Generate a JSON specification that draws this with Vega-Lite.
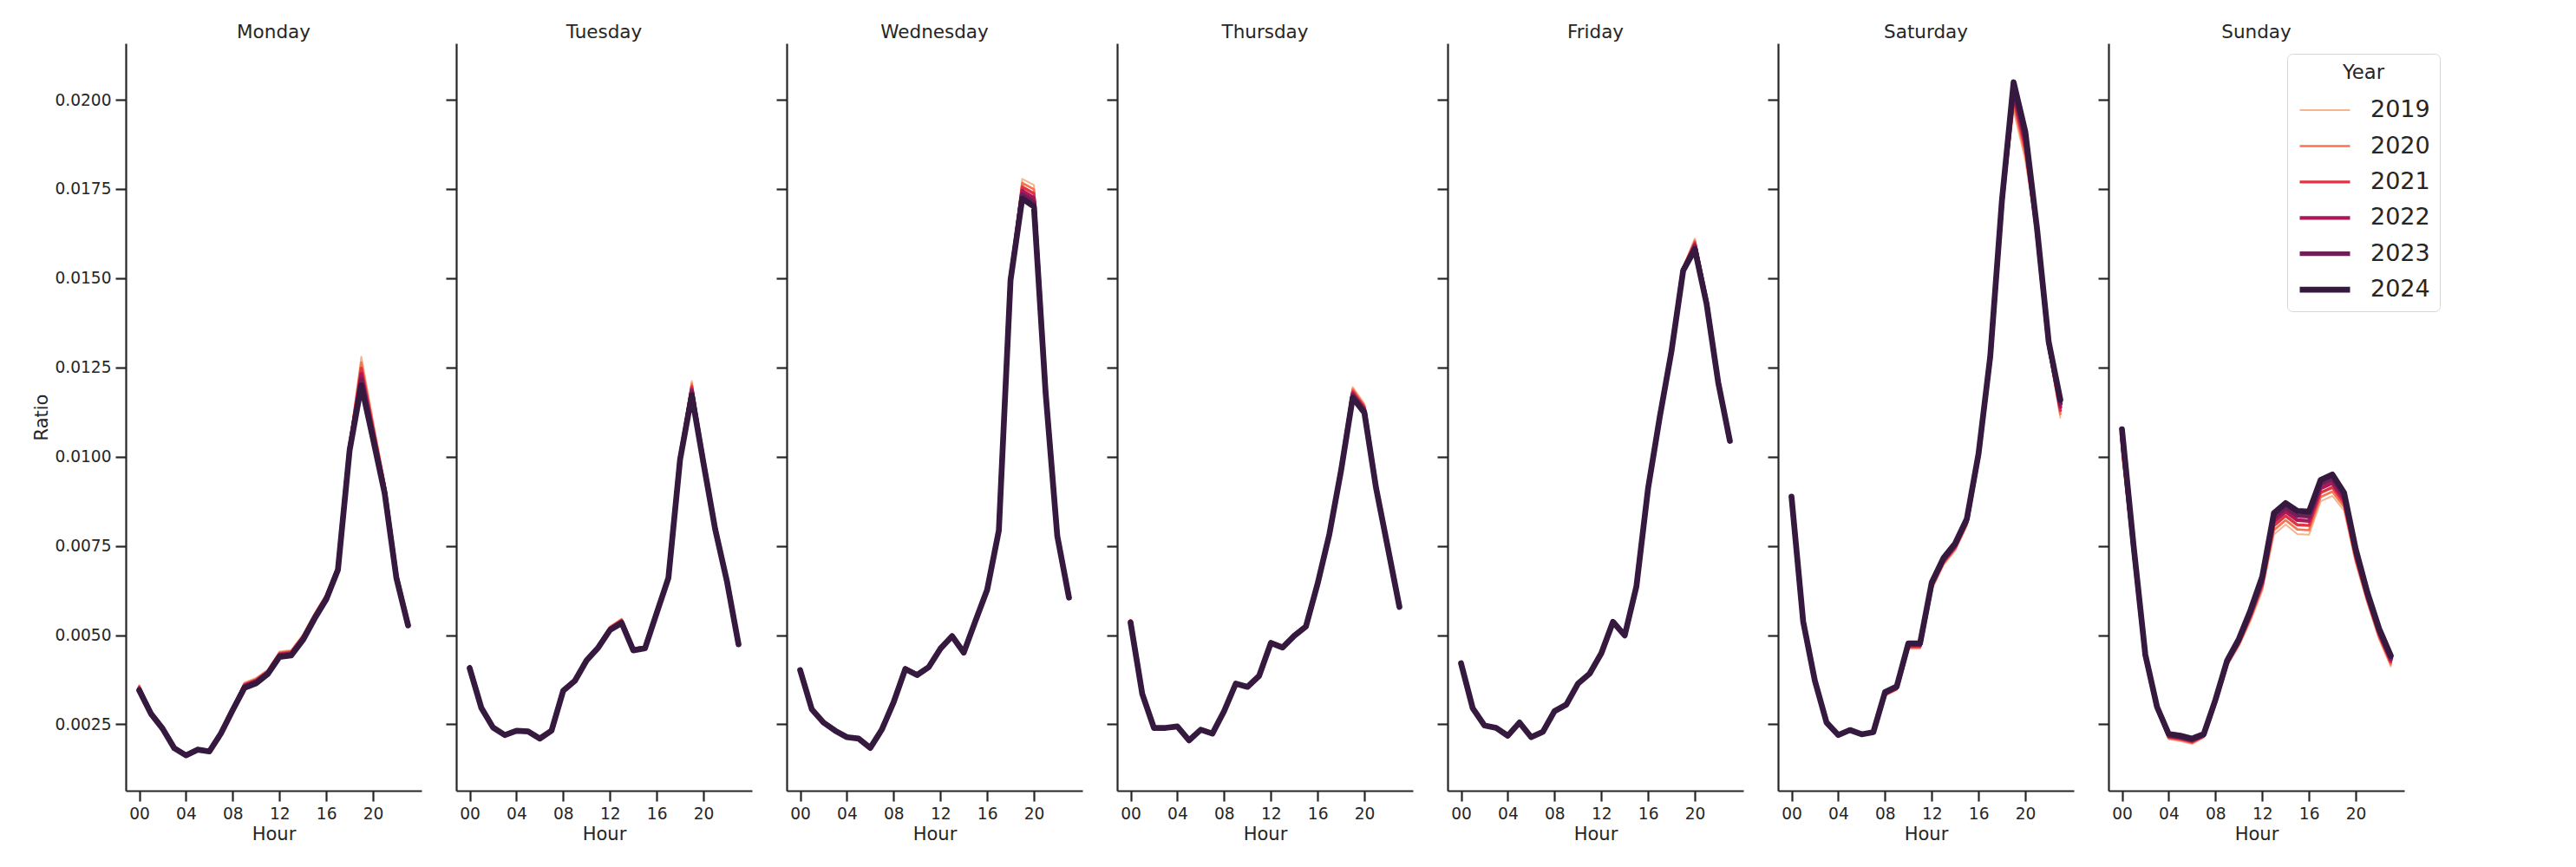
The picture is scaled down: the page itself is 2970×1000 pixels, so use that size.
{
"$schema":"https://vega.github.io/schema/vega-lite/v6.json",
"background":"white",
"padding":{"left":37,"top":26,"right":5,"bottom":5},
"spacing":40,
"bounds":"flush",
"config":{
 "view":{"stroke":null},
 "font":"DejaVu Sans",
 "axis":{"domainColor":"#262626","domainWidth":2.2,"tickColor":"#262626","tickWidth":2.2,"tickSize":12,"labelColor":"#262626","labelFontSize":18.6,"labelFont":"DejaVu Sans","titleFont":"DejaVu Sans","titleFontSize":21,"titleFontWeight":"normal","titleColor":"#262626","grid":false,"labelPadding":5},
 "title":{"fontSize":21.5,"fontWeight":"normal","color":"#262626","font":"DejaVu Sans","offset":2},
 "legend":{"orient":"none","legendX":2492,"legendY":12,"symbolType":"stroke","symbolSize":3364,"clipHeight":27,"labelFontSize":27,"labelFont":"DejaVu Sans","titleFont":"DejaVu Sans","titleFontSize":22.7,"titleFontWeight":"normal","titleAnchor":"middle","titleColor":"#262626","labelColor":"#262626","strokeColor":"#d6d6d6","fillColor":"white","padding":11,"cornerRadius":6,"rowPadding":13.4,"labelOffset":20,"titlePadding":17.9}
},
"resolve":{"scale":{"color":"shared","strokeWidth":"shared"},"legend":{"color":"shared","strokeWidth":"shared"}},
"datasets":{
"Monday":[
{"hour":0,"year":2019,"ratio":0.00360},{"hour":1,"year":2019,"ratio":0.00285},{"hour":2,"year":2019,"ratio":0.00243},{"hour":3,"year":2019,"ratio":0.00186},{"hour":4,"year":2019,"ratio":0.00166},{"hour":5,"year":2019,"ratio":0.00182},{"hour":6,"year":2019,"ratio":0.00177},{"hour":7,"year":2019,"ratio":0.00230},{"hour":8,"year":2019,"ratio":0.00298},{"hour":9,"year":2019,"ratio":0.00367},{"hour":10,"year":2019,"ratio":0.00380},{"hour":11,"year":2019,"ratio":0.00403},{"hour":12,"year":2019,"ratio":0.00454},{"hour":13,"year":2019,"ratio":0.00458},{"hour":14,"year":2019,"ratio":0.00501},{"hour":15,"year":2019,"ratio":0.00561},{"hour":16,"year":2019,"ratio":0.00615},{"hour":17,"year":2019,"ratio":0.00695},{"hour":18,"year":2019,"ratio":0.01038},{"hour":19,"year":2019,"ratio":0.01280},{"hour":20,"year":2019,"ratio":0.01100},{"hour":21,"year":2019,"ratio":0.00927},{"hour":22,"year":2019,"ratio":0.00680},{"hour":23,"year":2019,"ratio":0.00537},
{"hour":0,"year":2020,"ratio":0.00357},{"hour":1,"year":2020,"ratio":0.00284},{"hour":2,"year":2020,"ratio":0.00242},{"hour":3,"year":2020,"ratio":0.00185},{"hour":4,"year":2020,"ratio":0.00165},{"hour":5,"year":2020,"ratio":0.00181},{"hour":6,"year":2020,"ratio":0.00176},{"hour":7,"year":2020,"ratio":0.00229},{"hour":8,"year":2020,"ratio":0.00296},{"hour":9,"year":2020,"ratio":0.00364},{"hour":10,"year":2020,"ratio":0.00377},{"hour":11,"year":2020,"ratio":0.00401},{"hour":12,"year":2020,"ratio":0.00451},{"hour":13,"year":2020,"ratio":0.00455},{"hour":14,"year":2020,"ratio":0.00498},{"hour":15,"year":2020,"ratio":0.00558},{"hour":16,"year":2020,"ratio":0.00612},{"hour":17,"year":2020,"ratio":0.00693},{"hour":18,"year":2020,"ratio":0.01034},{"hour":19,"year":2020,"ratio":0.01264},{"hour":20,"year":2020,"ratio":0.01090},{"hour":21,"year":2020,"ratio":0.00921},{"hour":22,"year":2020,"ratio":0.00676},{"hour":23,"year":2020,"ratio":0.00535},
{"hour":0,"year":2021,"ratio":0.00354},{"hour":1,"year":2021,"ratio":0.00283},{"hour":2,"year":2021,"ratio":0.00241},{"hour":3,"year":2021,"ratio":0.00185},{"hour":4,"year":2021,"ratio":0.00165},{"hour":5,"year":2021,"ratio":0.00181},{"hour":6,"year":2021,"ratio":0.00176},{"hour":7,"year":2021,"ratio":0.00228},{"hour":8,"year":2021,"ratio":0.00295},{"hour":9,"year":2021,"ratio":0.00361},{"hour":10,"year":2021,"ratio":0.00374},{"hour":11,"year":2021,"ratio":0.00398},{"hour":12,"year":2021,"ratio":0.00448},{"hour":13,"year":2021,"ratio":0.00452},{"hour":14,"year":2021,"ratio":0.00495},{"hour":15,"year":2021,"ratio":0.00555},{"hour":16,"year":2021,"ratio":0.00609},{"hour":17,"year":2021,"ratio":0.00690},{"hour":18,"year":2021,"ratio":0.01030},{"hour":19,"year":2021,"ratio":0.01248},{"hour":20,"year":2021,"ratio":0.01080},{"hour":21,"year":2021,"ratio":0.00915},{"hour":22,"year":2021,"ratio":0.00672},{"hour":23,"year":2021,"ratio":0.00533},
{"hour":0,"year":2022,"ratio":0.00351},{"hour":1,"year":2022,"ratio":0.00282},{"hour":2,"year":2022,"ratio":0.00240},{"hour":3,"year":2022,"ratio":0.00184},{"hour":4,"year":2022,"ratio":0.00164},{"hour":5,"year":2022,"ratio":0.00180},{"hour":6,"year":2022,"ratio":0.00175},{"hour":7,"year":2022,"ratio":0.00227},{"hour":8,"year":2022,"ratio":0.00293},{"hour":9,"year":2022,"ratio":0.00358},{"hour":10,"year":2022,"ratio":0.00371},{"hour":11,"year":2022,"ratio":0.00396},{"hour":12,"year":2022,"ratio":0.00445},{"hour":13,"year":2022,"ratio":0.00449},{"hour":14,"year":2022,"ratio":0.00492},{"hour":15,"year":2022,"ratio":0.00552},{"hour":16,"year":2022,"ratio":0.00606},{"hour":17,"year":2022,"ratio":0.00688},{"hour":18,"year":2022,"ratio":0.01026},{"hour":19,"year":2022,"ratio":0.01232},{"hour":20,"year":2022,"ratio":0.01070},{"hour":21,"year":2022,"ratio":0.00909},{"hour":22,"year":2022,"ratio":0.00668},{"hour":23,"year":2022,"ratio":0.00531},
{"hour":0,"year":2023,"ratio":0.00348},{"hour":1,"year":2023,"ratio":0.00281},{"hour":2,"year":2023,"ratio":0.00239},{"hour":3,"year":2023,"ratio":0.00184},{"hour":4,"year":2023,"ratio":0.00164},{"hour":5,"year":2023,"ratio":0.00180},{"hour":6,"year":2023,"ratio":0.00175},{"hour":7,"year":2023,"ratio":0.00226},{"hour":8,"year":2023,"ratio":0.00292},{"hour":9,"year":2023,"ratio":0.00355},{"hour":10,"year":2023,"ratio":0.00368},{"hour":11,"year":2023,"ratio":0.00393},{"hour":12,"year":2023,"ratio":0.00442},{"hour":13,"year":2023,"ratio":0.00446},{"hour":14,"year":2023,"ratio":0.00489},{"hour":15,"year":2023,"ratio":0.00549},{"hour":16,"year":2023,"ratio":0.00603},{"hour":17,"year":2023,"ratio":0.00685},{"hour":18,"year":2023,"ratio":0.01022},{"hour":19,"year":2023,"ratio":0.01216},{"hour":20,"year":2023,"ratio":0.01060},{"hour":21,"year":2023,"ratio":0.00903},{"hour":22,"year":2023,"ratio":0.00664},{"hour":23,"year":2023,"ratio":0.00529},
{"hour":0,"year":2024,"ratio":0.00345},{"hour":1,"year":2024,"ratio":0.00280},{"hour":2,"year":2024,"ratio":0.00238},{"hour":3,"year":2024,"ratio":0.00183},{"hour":4,"year":2024,"ratio":0.00163},{"hour":5,"year":2024,"ratio":0.00179},{"hour":6,"year":2024,"ratio":0.00174},{"hour":7,"year":2024,"ratio":0.00225},{"hour":8,"year":2024,"ratio":0.00290},{"hour":9,"year":2024,"ratio":0.00352},{"hour":10,"year":2024,"ratio":0.00365},{"hour":11,"year":2024,"ratio":0.00391},{"hour":12,"year":2024,"ratio":0.00439},{"hour":13,"year":2024,"ratio":0.00443},{"hour":14,"year":2024,"ratio":0.00486},{"hour":15,"year":2024,"ratio":0.00546},{"hour":16,"year":2024,"ratio":0.00600},{"hour":17,"year":2024,"ratio":0.00683},{"hour":18,"year":2024,"ratio":0.01018},{"hour":19,"year":2024,"ratio":0.01200},{"hour":20,"year":2024,"ratio":0.01050},{"hour":21,"year":2024,"ratio":0.00897},{"hour":22,"year":2024,"ratio":0.00660},{"hour":23,"year":2024,"ratio":0.00527}
],
"Tuesday":[
{"hour":0,"year":2019,"ratio":0.00415},{"hour":1,"year":2019,"ratio":0.00296},{"hour":2,"year":2019,"ratio":0.00241},{"hour":3,"year":2019,"ratio":0.00220},{"hour":4,"year":2019,"ratio":0.00232},{"hour":5,"year":2019,"ratio":0.00230},{"hour":6,"year":2019,"ratio":0.00210},{"hour":7,"year":2019,"ratio":0.00232},{"hour":8,"year":2019,"ratio":0.00347},{"hour":9,"year":2019,"ratio":0.00375},{"hour":10,"year":2019,"ratio":0.00434},{"hour":11,"year":2019,"ratio":0.00470},{"hour":12,"year":2019,"ratio":0.00524},{"hour":13,"year":2019,"ratio":0.00546},{"hour":14,"year":2019,"ratio":0.00465},{"hour":15,"year":2019,"ratio":0.00468},{"hour":16,"year":2019,"ratio":0.00565},{"hour":17,"year":2019,"ratio":0.00663},{"hour":18,"year":2019,"ratio":0.01002},{"hour":19,"year":2019,"ratio":0.01212},{"hour":20,"year":2019,"ratio":0.00992},{"hour":21,"year":2019,"ratio":0.00800},{"hour":22,"year":2019,"ratio":0.00652},{"hour":23,"year":2019,"ratio":0.00474},
{"hour":0,"year":2020,"ratio":0.00413},{"hour":1,"year":2020,"ratio":0.00296},{"hour":2,"year":2020,"ratio":0.00241},{"hour":3,"year":2020,"ratio":0.00220},{"hour":4,"year":2020,"ratio":0.00232},{"hour":5,"year":2020,"ratio":0.00230},{"hour":6,"year":2020,"ratio":0.00210},{"hour":7,"year":2020,"ratio":0.00232},{"hour":8,"year":2020,"ratio":0.00346},{"hour":9,"year":2020,"ratio":0.00374},{"hour":10,"year":2020,"ratio":0.00433},{"hour":11,"year":2020,"ratio":0.00469},{"hour":12,"year":2020,"ratio":0.00522},{"hour":13,"year":2020,"ratio":0.00544},{"hour":14,"year":2020,"ratio":0.00463},{"hour":15,"year":2020,"ratio":0.00467},{"hour":16,"year":2020,"ratio":0.00564},{"hour":17,"year":2020,"ratio":0.00662},{"hour":18,"year":2020,"ratio":0.01000},{"hour":19,"year":2020,"ratio":0.01204},{"hour":20,"year":2020,"ratio":0.00990},{"hour":21,"year":2020,"ratio":0.00799},{"hour":22,"year":2020,"ratio":0.00652},{"hour":23,"year":2020,"ratio":0.00474},
{"hour":0,"year":2021,"ratio":0.00412},{"hour":1,"year":2021,"ratio":0.00296},{"hour":2,"year":2021,"ratio":0.00241},{"hour":3,"year":2021,"ratio":0.00220},{"hour":4,"year":2021,"ratio":0.00232},{"hour":5,"year":2021,"ratio":0.00230},{"hour":6,"year":2021,"ratio":0.00210},{"hour":7,"year":2021,"ratio":0.00232},{"hour":8,"year":2021,"ratio":0.00346},{"hour":9,"year":2021,"ratio":0.00374},{"hour":10,"year":2021,"ratio":0.00432},{"hour":11,"year":2021,"ratio":0.00468},{"hour":12,"year":2021,"ratio":0.00520},{"hour":13,"year":2021,"ratio":0.00541},{"hour":14,"year":2021,"ratio":0.00462},{"hour":15,"year":2021,"ratio":0.00466},{"hour":16,"year":2021,"ratio":0.00564},{"hour":17,"year":2021,"ratio":0.00662},{"hour":18,"year":2021,"ratio":0.00998},{"hour":19,"year":2021,"ratio":0.01196},{"hour":20,"year":2021,"ratio":0.00988},{"hour":21,"year":2021,"ratio":0.00799},{"hour":22,"year":2021,"ratio":0.00652},{"hour":23,"year":2021,"ratio":0.00474},
{"hour":0,"year":2022,"ratio":0.00410},{"hour":1,"year":2022,"ratio":0.00296},{"hour":2,"year":2022,"ratio":0.00241},{"hour":3,"year":2022,"ratio":0.00220},{"hour":4,"year":2022,"ratio":0.00232},{"hour":5,"year":2022,"ratio":0.00230},{"hour":6,"year":2022,"ratio":0.00210},{"hour":7,"year":2022,"ratio":0.00232},{"hour":8,"year":2022,"ratio":0.00345},{"hour":9,"year":2022,"ratio":0.00373},{"hour":10,"year":2022,"ratio":0.00431},{"hour":11,"year":2022,"ratio":0.00467},{"hour":12,"year":2022,"ratio":0.00518},{"hour":13,"year":2022,"ratio":0.00539},{"hour":14,"year":2022,"ratio":0.00460},{"hour":15,"year":2022,"ratio":0.00465},{"hour":16,"year":2022,"ratio":0.00563},{"hour":17,"year":2022,"ratio":0.00661},{"hour":18,"year":2022,"ratio":0.00996},{"hour":19,"year":2022,"ratio":0.01188},{"hour":20,"year":2022,"ratio":0.00986},{"hour":21,"year":2022,"ratio":0.00798},{"hour":22,"year":2022,"ratio":0.00652},{"hour":23,"year":2022,"ratio":0.00474},
{"hour":0,"year":2023,"ratio":0.00409},{"hour":1,"year":2023,"ratio":0.00296},{"hour":2,"year":2023,"ratio":0.00241},{"hour":3,"year":2023,"ratio":0.00220},{"hour":4,"year":2023,"ratio":0.00232},{"hour":5,"year":2023,"ratio":0.00230},{"hour":6,"year":2023,"ratio":0.00210},{"hour":7,"year":2023,"ratio":0.00232},{"hour":8,"year":2023,"ratio":0.00345},{"hour":9,"year":2023,"ratio":0.00373},{"hour":10,"year":2023,"ratio":0.00430},{"hour":11,"year":2023,"ratio":0.00466},{"hour":12,"year":2023,"ratio":0.00516},{"hour":13,"year":2023,"ratio":0.00536},{"hour":14,"year":2023,"ratio":0.00459},{"hour":15,"year":2023,"ratio":0.00464},{"hour":16,"year":2023,"ratio":0.00563},{"hour":17,"year":2023,"ratio":0.00661},{"hour":18,"year":2023,"ratio":0.00994},{"hour":19,"year":2023,"ratio":0.01180},{"hour":20,"year":2023,"ratio":0.00984},{"hour":21,"year":2023,"ratio":0.00798},{"hour":22,"year":2023,"ratio":0.00652},{"hour":23,"year":2023,"ratio":0.00474},
{"hour":0,"year":2024,"ratio":0.00407},{"hour":1,"year":2024,"ratio":0.00296},{"hour":2,"year":2024,"ratio":0.00241},{"hour":3,"year":2024,"ratio":0.00220},{"hour":4,"year":2024,"ratio":0.00232},{"hour":5,"year":2024,"ratio":0.00230},{"hour":6,"year":2024,"ratio":0.00210},{"hour":7,"year":2024,"ratio":0.00232},{"hour":8,"year":2024,"ratio":0.00344},{"hour":9,"year":2024,"ratio":0.00372},{"hour":10,"year":2024,"ratio":0.00429},{"hour":11,"year":2024,"ratio":0.00465},{"hour":12,"year":2024,"ratio":0.00514},{"hour":13,"year":2024,"ratio":0.00534},{"hour":14,"year":2024,"ratio":0.00457},{"hour":15,"year":2024,"ratio":0.00463},{"hour":16,"year":2024,"ratio":0.00562},{"hour":17,"year":2024,"ratio":0.00660},{"hour":18,"year":2024,"ratio":0.00992},{"hour":19,"year":2024,"ratio":0.01172},{"hour":20,"year":2024,"ratio":0.00982},{"hour":21,"year":2024,"ratio":0.00797},{"hour":22,"year":2024,"ratio":0.00652},{"hour":23,"year":2024,"ratio":0.00474}
],
"Wednesday":[
{"hour":0,"year":2019,"ratio":0.00405},{"hour":1,"year":2019,"ratio":0.00292},{"hour":2,"year":2019,"ratio":0.00255},{"hour":3,"year":2019,"ratio":0.00232},{"hour":4,"year":2019,"ratio":0.00216},{"hour":5,"year":2019,"ratio":0.00211},{"hour":6,"year":2019,"ratio":0.00185},{"hour":7,"year":2019,"ratio":0.00236},{"hour":8,"year":2019,"ratio":0.00315},{"hour":9,"year":2019,"ratio":0.00410},{"hour":10,"year":2019,"ratio":0.00393},{"hour":11,"year":2019,"ratio":0.00415},{"hour":12,"year":2019,"ratio":0.00467},{"hour":13,"year":2019,"ratio":0.00502},{"hour":14,"year":2019,"ratio":0.00454},{"hour":15,"year":2019,"ratio":0.00543},{"hour":16,"year":2019,"ratio":0.00630},{"hour":17,"year":2019,"ratio":0.00798},{"hour":18,"year":2019,"ratio":0.01505},{"hour":19,"year":2019,"ratio":0.01778},{"hour":20,"year":2019,"ratio":0.01761},{"hour":21,"year":2019,"ratio":0.01199},{"hour":22,"year":2019,"ratio":0.00782},{"hour":23,"year":2019,"ratio":0.00608},
{"hour":0,"year":2020,"ratio":0.00404},{"hour":1,"year":2020,"ratio":0.00292},{"hour":2,"year":2020,"ratio":0.00255},{"hour":3,"year":2020,"ratio":0.00232},{"hour":4,"year":2020,"ratio":0.00216},{"hour":5,"year":2020,"ratio":0.00211},{"hour":6,"year":2020,"ratio":0.00185},{"hour":7,"year":2020,"ratio":0.00236},{"hour":8,"year":2020,"ratio":0.00314},{"hour":9,"year":2020,"ratio":0.00409},{"hour":10,"year":2020,"ratio":0.00392},{"hour":11,"year":2020,"ratio":0.00414},{"hour":12,"year":2020,"ratio":0.00466},{"hour":13,"year":2020,"ratio":0.00501},{"hour":14,"year":2020,"ratio":0.00453},{"hour":15,"year":2020,"ratio":0.00542},{"hour":16,"year":2020,"ratio":0.00629},{"hour":17,"year":2020,"ratio":0.00797},{"hour":18,"year":2020,"ratio":0.01503},{"hour":19,"year":2020,"ratio":0.01767},{"hour":20,"year":2020,"ratio":0.01749},{"hour":21,"year":2020,"ratio":0.01195},{"hour":22,"year":2020,"ratio":0.00781},{"hour":23,"year":2020,"ratio":0.00607},
{"hour":0,"year":2021,"ratio":0.00404},{"hour":1,"year":2021,"ratio":0.00292},{"hour":2,"year":2021,"ratio":0.00255},{"hour":3,"year":2021,"ratio":0.00232},{"hour":4,"year":2021,"ratio":0.00215},{"hour":5,"year":2021,"ratio":0.00210},{"hour":6,"year":2021,"ratio":0.00185},{"hour":7,"year":2021,"ratio":0.00236},{"hour":8,"year":2021,"ratio":0.00314},{"hour":9,"year":2021,"ratio":0.00408},{"hour":10,"year":2021,"ratio":0.00391},{"hour":11,"year":2021,"ratio":0.00413},{"hour":12,"year":2021,"ratio":0.00465},{"hour":13,"year":2021,"ratio":0.00500},{"hour":14,"year":2021,"ratio":0.00453},{"hour":15,"year":2021,"ratio":0.00542},{"hour":16,"year":2021,"ratio":0.00629},{"hour":17,"year":2021,"ratio":0.00796},{"hour":18,"year":2021,"ratio":0.01501},{"hour":19,"year":2021,"ratio":0.01756},{"hour":20,"year":2021,"ratio":0.01737},{"hour":21,"year":2021,"ratio":0.01191},{"hour":22,"year":2021,"ratio":0.00780},{"hour":23,"year":2021,"ratio":0.00607},
{"hour":0,"year":2022,"ratio":0.00403},{"hour":1,"year":2022,"ratio":0.00292},{"hour":2,"year":2022,"ratio":0.00255},{"hour":3,"year":2022,"ratio":0.00232},{"hour":4,"year":2022,"ratio":0.00215},{"hour":5,"year":2022,"ratio":0.00210},{"hour":6,"year":2022,"ratio":0.00184},{"hour":7,"year":2022,"ratio":0.00236},{"hour":8,"year":2022,"ratio":0.00313},{"hour":9,"year":2022,"ratio":0.00407},{"hour":10,"year":2022,"ratio":0.00390},{"hour":11,"year":2022,"ratio":0.00412},{"hour":12,"year":2022,"ratio":0.00464},{"hour":13,"year":2022,"ratio":0.00499},{"hour":14,"year":2022,"ratio":0.00452},{"hour":15,"year":2022,"ratio":0.00541},{"hour":16,"year":2022,"ratio":0.00628},{"hour":17,"year":2022,"ratio":0.00795},{"hour":18,"year":2022,"ratio":0.01499},{"hour":19,"year":2022,"ratio":0.01745},{"hour":20,"year":2022,"ratio":0.01725},{"hour":21,"year":2022,"ratio":0.01187},{"hour":22,"year":2022,"ratio":0.00779},{"hour":23,"year":2022,"ratio":0.00606},
{"hour":0,"year":2023,"ratio":0.00403},{"hour":1,"year":2023,"ratio":0.00292},{"hour":2,"year":2023,"ratio":0.00255},{"hour":3,"year":2023,"ratio":0.00232},{"hour":4,"year":2023,"ratio":0.00214},{"hour":5,"year":2023,"ratio":0.00210},{"hour":6,"year":2023,"ratio":0.00184},{"hour":7,"year":2023,"ratio":0.00236},{"hour":8,"year":2023,"ratio":0.00313},{"hour":9,"year":2023,"ratio":0.00406},{"hour":10,"year":2023,"ratio":0.00389},{"hour":11,"year":2023,"ratio":0.00411},{"hour":12,"year":2023,"ratio":0.00463},{"hour":13,"year":2023,"ratio":0.00498},{"hour":14,"year":2023,"ratio":0.00452},{"hour":15,"year":2023,"ratio":0.00541},{"hour":16,"year":2023,"ratio":0.00628},{"hour":17,"year":2023,"ratio":0.00794},{"hour":18,"year":2023,"ratio":0.01497},{"hour":19,"year":2023,"ratio":0.01734},{"hour":20,"year":2023,"ratio":0.01713},{"hour":21,"year":2023,"ratio":0.01183},{"hour":22,"year":2023,"ratio":0.00778},{"hour":23,"year":2023,"ratio":0.00606},
{"hour":0,"year":2024,"ratio":0.00402},{"hour":1,"year":2024,"ratio":0.00292},{"hour":2,"year":2024,"ratio":0.00255},{"hour":3,"year":2024,"ratio":0.00232},{"hour":4,"year":2024,"ratio":0.00214},{"hour":5,"year":2024,"ratio":0.00210},{"hour":6,"year":2024,"ratio":0.00184},{"hour":7,"year":2024,"ratio":0.00236},{"hour":8,"year":2024,"ratio":0.00312},{"hour":9,"year":2024,"ratio":0.00405},{"hour":10,"year":2024,"ratio":0.00388},{"hour":11,"year":2024,"ratio":0.00410},{"hour":12,"year":2024,"ratio":0.00462},{"hour":13,"year":2024,"ratio":0.00497},{"hour":14,"year":2024,"ratio":0.00451},{"hour":15,"year":2024,"ratio":0.00540},{"hour":16,"year":2024,"ratio":0.00627},{"hour":17,"year":2024,"ratio":0.00793},{"hour":18,"year":2024,"ratio":0.01495},{"hour":19,"year":2024,"ratio":0.01723},{"hour":20,"year":2024,"ratio":0.01701},{"hour":21,"year":2024,"ratio":0.01179},{"hour":22,"year":2024,"ratio":0.00777},{"hour":23,"year":2024,"ratio":0.00605}
],
"Thursday":[
{"hour":0,"year":2019,"ratio":0.00543},{"hour":1,"year":2019,"ratio":0.00335},{"hour":2,"year":2019,"ratio":0.00240},{"hour":3,"year":2019,"ratio":0.00240},{"hour":4,"year":2019,"ratio":0.00244},{"hour":5,"year":2019,"ratio":0.00205},{"hour":6,"year":2019,"ratio":0.00235},{"hour":7,"year":2019,"ratio":0.00224},{"hour":8,"year":2019,"ratio":0.00287},{"hour":9,"year":2019,"ratio":0.00364},{"hour":10,"year":2019,"ratio":0.00355},{"hour":11,"year":2019,"ratio":0.00386},{"hour":12,"year":2019,"ratio":0.00483},{"hour":13,"year":2019,"ratio":0.00470},{"hour":14,"year":2019,"ratio":0.00503},{"hour":15,"year":2019,"ratio":0.00529},{"hour":16,"year":2019,"ratio":0.00644},{"hour":17,"year":2019,"ratio":0.00782},{"hour":18,"year":2019,"ratio":0.00965},{"hour":19,"year":2019,"ratio":0.01195},{"hour":20,"year":2019,"ratio":0.01148},{"hour":21,"year":2019,"ratio":0.00917},{"hour":22,"year":2019,"ratio":0.00746},{"hour":23,"year":2019,"ratio":0.00579},
{"hour":0,"year":2020,"ratio":0.00541},{"hour":1,"year":2020,"ratio":0.00335},{"hour":2,"year":2020,"ratio":0.00240},{"hour":3,"year":2020,"ratio":0.00240},{"hour":4,"year":2020,"ratio":0.00244},{"hour":5,"year":2020,"ratio":0.00205},{"hour":6,"year":2020,"ratio":0.00235},{"hour":7,"year":2020,"ratio":0.00224},{"hour":8,"year":2020,"ratio":0.00287},{"hour":9,"year":2020,"ratio":0.00364},{"hour":10,"year":2020,"ratio":0.00355},{"hour":11,"year":2020,"ratio":0.00386},{"hour":12,"year":2020,"ratio":0.00482},{"hour":13,"year":2020,"ratio":0.00469},{"hour":14,"year":2020,"ratio":0.00502},{"hour":15,"year":2020,"ratio":0.00528},{"hour":16,"year":2020,"ratio":0.00644},{"hour":17,"year":2020,"ratio":0.00782},{"hour":18,"year":2020,"ratio":0.00964},{"hour":19,"year":2020,"ratio":0.01189},{"hour":20,"year":2020,"ratio":0.01143},{"hour":21,"year":2020,"ratio":0.00916},{"hour":22,"year":2020,"ratio":0.00746},{"hour":23,"year":2020,"ratio":0.00579},
{"hour":0,"year":2021,"ratio":0.00540},{"hour":1,"year":2021,"ratio":0.00335},{"hour":2,"year":2021,"ratio":0.00240},{"hour":3,"year":2021,"ratio":0.00240},{"hour":4,"year":2021,"ratio":0.00244},{"hour":5,"year":2021,"ratio":0.00205},{"hour":6,"year":2021,"ratio":0.00235},{"hour":7,"year":2021,"ratio":0.00224},{"hour":8,"year":2021,"ratio":0.00287},{"hour":9,"year":2021,"ratio":0.00364},{"hour":10,"year":2021,"ratio":0.00355},{"hour":11,"year":2021,"ratio":0.00386},{"hour":12,"year":2021,"ratio":0.00481},{"hour":13,"year":2021,"ratio":0.00468},{"hour":14,"year":2021,"ratio":0.00501},{"hour":15,"year":2021,"ratio":0.00527},{"hour":16,"year":2021,"ratio":0.00644},{"hour":17,"year":2021,"ratio":0.00782},{"hour":18,"year":2021,"ratio":0.00963},{"hour":19,"year":2021,"ratio":0.01183},{"hour":20,"year":2021,"ratio":0.01138},{"hour":21,"year":2021,"ratio":0.00915},{"hour":22,"year":2021,"ratio":0.00746},{"hour":23,"year":2021,"ratio":0.00579},
{"hour":0,"year":2022,"ratio":0.00538},{"hour":1,"year":2022,"ratio":0.00335},{"hour":2,"year":2022,"ratio":0.00240},{"hour":3,"year":2022,"ratio":0.00240},{"hour":4,"year":2022,"ratio":0.00244},{"hour":5,"year":2022,"ratio":0.00205},{"hour":6,"year":2022,"ratio":0.00235},{"hour":7,"year":2022,"ratio":0.00224},{"hour":8,"year":2022,"ratio":0.00287},{"hour":9,"year":2022,"ratio":0.00364},{"hour":10,"year":2022,"ratio":0.00355},{"hour":11,"year":2022,"ratio":0.00386},{"hour":12,"year":2022,"ratio":0.00480},{"hour":13,"year":2022,"ratio":0.00467},{"hour":14,"year":2022,"ratio":0.00500},{"hour":15,"year":2022,"ratio":0.00526},{"hour":16,"year":2022,"ratio":0.00644},{"hour":17,"year":2022,"ratio":0.00782},{"hour":18,"year":2022,"ratio":0.00962},{"hour":19,"year":2022,"ratio":0.01177},{"hour":20,"year":2022,"ratio":0.01133},{"hour":21,"year":2022,"ratio":0.00914},{"hour":22,"year":2022,"ratio":0.00746},{"hour":23,"year":2022,"ratio":0.00579},
{"hour":0,"year":2023,"ratio":0.00537},{"hour":1,"year":2023,"ratio":0.00335},{"hour":2,"year":2023,"ratio":0.00240},{"hour":3,"year":2023,"ratio":0.00240},{"hour":4,"year":2023,"ratio":0.00244},{"hour":5,"year":2023,"ratio":0.00205},{"hour":6,"year":2023,"ratio":0.00235},{"hour":7,"year":2023,"ratio":0.00224},{"hour":8,"year":2023,"ratio":0.00287},{"hour":9,"year":2023,"ratio":0.00364},{"hour":10,"year":2023,"ratio":0.00355},{"hour":11,"year":2023,"ratio":0.00386},{"hour":12,"year":2023,"ratio":0.00479},{"hour":13,"year":2023,"ratio":0.00466},{"hour":14,"year":2023,"ratio":0.00499},{"hour":15,"year":2023,"ratio":0.00525},{"hour":16,"year":2023,"ratio":0.00644},{"hour":17,"year":2023,"ratio":0.00782},{"hour":18,"year":2023,"ratio":0.00961},{"hour":19,"year":2023,"ratio":0.01171},{"hour":20,"year":2023,"ratio":0.01128},{"hour":21,"year":2023,"ratio":0.00913},{"hour":22,"year":2023,"ratio":0.00746},{"hour":23,"year":2023,"ratio":0.00579},
{"hour":0,"year":2024,"ratio":0.00535},{"hour":1,"year":2024,"ratio":0.00335},{"hour":2,"year":2024,"ratio":0.00240},{"hour":3,"year":2024,"ratio":0.00240},{"hour":4,"year":2024,"ratio":0.00244},{"hour":5,"year":2024,"ratio":0.00205},{"hour":6,"year":2024,"ratio":0.00235},{"hour":7,"year":2024,"ratio":0.00224},{"hour":8,"year":2024,"ratio":0.00287},{"hour":9,"year":2024,"ratio":0.00364},{"hour":10,"year":2024,"ratio":0.00355},{"hour":11,"year":2024,"ratio":0.00386},{"hour":12,"year":2024,"ratio":0.00478},{"hour":13,"year":2024,"ratio":0.00465},{"hour":14,"year":2024,"ratio":0.00498},{"hour":15,"year":2024,"ratio":0.00524},{"hour":16,"year":2024,"ratio":0.00644},{"hour":17,"year":2024,"ratio":0.00782},{"hour":18,"year":2024,"ratio":0.00960},{"hour":19,"year":2024,"ratio":0.01165},{"hour":20,"year":2024,"ratio":0.01123},{"hour":21,"year":2024,"ratio":0.00912},{"hour":22,"year":2024,"ratio":0.00746},{"hour":23,"year":2024,"ratio":0.00579}
],
"Friday":[
{"hour":0,"year":2019,"ratio":0.00423},{"hour":1,"year":2019,"ratio":0.00295},{"hour":2,"year":2019,"ratio":0.00247},{"hour":3,"year":2019,"ratio":0.00240},{"hour":4,"year":2019,"ratio":0.00218},{"hour":5,"year":2019,"ratio":0.00255},{"hour":6,"year":2019,"ratio":0.00214},{"hour":7,"year":2019,"ratio":0.00229},{"hour":8,"year":2019,"ratio":0.00287},{"hour":9,"year":2019,"ratio":0.00307},{"hour":10,"year":2019,"ratio":0.00364},{"hour":11,"year":2019,"ratio":0.00394},{"hour":12,"year":2019,"ratio":0.00450},{"hour":13,"year":2019,"ratio":0.00542},{"hour":14,"year":2019,"ratio":0.00500},{"hour":15,"year":2019,"ratio":0.00637},{"hour":16,"year":2019,"ratio":0.00911},{"hour":17,"year":2019,"ratio":0.01111},{"hour":18,"year":2019,"ratio":0.01295},{"hour":19,"year":2019,"ratio":0.01531},{"hour":20,"year":2019,"ratio":0.01611},{"hour":21,"year":2019,"ratio":0.01449},{"hour":22,"year":2019,"ratio":0.01208},{"hour":23,"year":2019,"ratio":0.01044},
{"hour":0,"year":2020,"ratio":0.00423},{"hour":1,"year":2020,"ratio":0.00295},{"hour":2,"year":2020,"ratio":0.00247},{"hour":3,"year":2020,"ratio":0.00240},{"hour":4,"year":2020,"ratio":0.00218},{"hour":5,"year":2020,"ratio":0.00255},{"hour":6,"year":2020,"ratio":0.00214},{"hour":7,"year":2020,"ratio":0.00229},{"hour":8,"year":2020,"ratio":0.00287},{"hour":9,"year":2020,"ratio":0.00306},{"hour":10,"year":2020,"ratio":0.00364},{"hour":11,"year":2020,"ratio":0.00394},{"hour":12,"year":2020,"ratio":0.00450},{"hour":13,"year":2020,"ratio":0.00541},{"hour":14,"year":2020,"ratio":0.00500},{"hour":15,"year":2020,"ratio":0.00637},{"hour":16,"year":2020,"ratio":0.00911},{"hour":17,"year":2020,"ratio":0.01111},{"hour":18,"year":2020,"ratio":0.01295},{"hour":19,"year":2020,"ratio":0.01529},{"hour":20,"year":2020,"ratio":0.01605},{"hour":21,"year":2020,"ratio":0.01445},{"hour":22,"year":2020,"ratio":0.01208},{"hour":23,"year":2020,"ratio":0.01044},
{"hour":0,"year":2021,"ratio":0.00422},{"hour":1,"year":2021,"ratio":0.00295},{"hour":2,"year":2021,"ratio":0.00247},{"hour":3,"year":2021,"ratio":0.00240},{"hour":4,"year":2021,"ratio":0.00218},{"hour":5,"year":2021,"ratio":0.00255},{"hour":6,"year":2021,"ratio":0.00214},{"hour":7,"year":2021,"ratio":0.00229},{"hour":8,"year":2021,"ratio":0.00287},{"hour":9,"year":2021,"ratio":0.00306},{"hour":10,"year":2021,"ratio":0.00364},{"hour":11,"year":2021,"ratio":0.00393},{"hour":12,"year":2021,"ratio":0.00449},{"hour":13,"year":2021,"ratio":0.00540},{"hour":14,"year":2021,"ratio":0.00499},{"hour":15,"year":2021,"ratio":0.00637},{"hour":16,"year":2021,"ratio":0.00911},{"hour":17,"year":2021,"ratio":0.01111},{"hour":18,"year":2021,"ratio":0.01295},{"hour":19,"year":2021,"ratio":0.01527},{"hour":20,"year":2021,"ratio":0.01599},{"hour":21,"year":2021,"ratio":0.01441},{"hour":22,"year":2021,"ratio":0.01208},{"hour":23,"year":2021,"ratio":0.01044},
{"hour":0,"year":2022,"ratio":0.00422},{"hour":1,"year":2022,"ratio":0.00295},{"hour":2,"year":2022,"ratio":0.00247},{"hour":3,"year":2022,"ratio":0.00240},{"hour":4,"year":2022,"ratio":0.00218},{"hour":5,"year":2022,"ratio":0.00255},{"hour":6,"year":2022,"ratio":0.00214},{"hour":7,"year":2022,"ratio":0.00229},{"hour":8,"year":2022,"ratio":0.00287},{"hour":9,"year":2022,"ratio":0.00305},{"hour":10,"year":2022,"ratio":0.00364},{"hour":11,"year":2022,"ratio":0.00393},{"hour":12,"year":2022,"ratio":0.00449},{"hour":13,"year":2022,"ratio":0.00539},{"hour":14,"year":2022,"ratio":0.00499},{"hour":15,"year":2022,"ratio":0.00637},{"hour":16,"year":2022,"ratio":0.00911},{"hour":17,"year":2022,"ratio":0.01111},{"hour":18,"year":2022,"ratio":0.01295},{"hour":19,"year":2022,"ratio":0.01525},{"hour":20,"year":2022,"ratio":0.01593},{"hour":21,"year":2022,"ratio":0.01437},{"hour":22,"year":2022,"ratio":0.01208},{"hour":23,"year":2022,"ratio":0.01044},
{"hour":0,"year":2023,"ratio":0.00421},{"hour":1,"year":2023,"ratio":0.00295},{"hour":2,"year":2023,"ratio":0.00247},{"hour":3,"year":2023,"ratio":0.00240},{"hour":4,"year":2023,"ratio":0.00218},{"hour":5,"year":2023,"ratio":0.00255},{"hour":6,"year":2023,"ratio":0.00214},{"hour":7,"year":2023,"ratio":0.00229},{"hour":8,"year":2023,"ratio":0.00287},{"hour":9,"year":2023,"ratio":0.00305},{"hour":10,"year":2023,"ratio":0.00364},{"hour":11,"year":2023,"ratio":0.00392},{"hour":12,"year":2023,"ratio":0.00449},{"hour":13,"year":2023,"ratio":0.00538},{"hour":14,"year":2023,"ratio":0.00499},{"hour":15,"year":2023,"ratio":0.00636},{"hour":16,"year":2023,"ratio":0.00911},{"hour":17,"year":2023,"ratio":0.01111},{"hour":18,"year":2023,"ratio":0.01295},{"hour":19,"year":2023,"ratio":0.01523},{"hour":20,"year":2023,"ratio":0.01587},{"hour":21,"year":2023,"ratio":0.01433},{"hour":22,"year":2023,"ratio":0.01208},{"hour":23,"year":2023,"ratio":0.01044},
{"hour":0,"year":2024,"ratio":0.00421},{"hour":1,"year":2024,"ratio":0.00295},{"hour":2,"year":2024,"ratio":0.00247},{"hour":3,"year":2024,"ratio":0.00240},{"hour":4,"year":2024,"ratio":0.00218},{"hour":5,"year":2024,"ratio":0.00255},{"hour":6,"year":2024,"ratio":0.00214},{"hour":7,"year":2024,"ratio":0.00229},{"hour":8,"year":2024,"ratio":0.00287},{"hour":9,"year":2024,"ratio":0.00305},{"hour":10,"year":2024,"ratio":0.00364},{"hour":11,"year":2024,"ratio":0.00392},{"hour":12,"year":2024,"ratio":0.00449},{"hour":13,"year":2024,"ratio":0.00537},{"hour":14,"year":2024,"ratio":0.00499},{"hour":15,"year":2024,"ratio":0.00636},{"hour":16,"year":2024,"ratio":0.00911},{"hour":17,"year":2024,"ratio":0.01111},{"hour":18,"year":2024,"ratio":0.01295},{"hour":19,"year":2024,"ratio":0.01521},{"hour":20,"year":2024,"ratio":0.01581},{"hour":21,"year":2024,"ratio":0.01429},{"hour":22,"year":2024,"ratio":0.01208},{"hour":23,"year":2024,"ratio":0.01044}
],
"Saturday":[
{"hour":0,"year":2019,"ratio":0.00883},{"hour":1,"year":2019,"ratio":0.00538},{"hour":2,"year":2019,"ratio":0.00372},{"hour":3,"year":2019,"ratio":0.00253},{"hour":4,"year":2019,"ratio":0.00215},{"hour":5,"year":2019,"ratio":0.00231},{"hour":6,"year":2019,"ratio":0.00219},{"hour":7,"year":2019,"ratio":0.00225},{"hour":8,"year":2019,"ratio":0.00330},{"hour":9,"year":2019,"ratio":0.00346},{"hour":10,"year":2019,"ratio":0.00462},{"hour":11,"year":2019,"ratio":0.00462},{"hour":12,"year":2019,"ratio":0.00628},{"hour":13,"year":2019,"ratio":0.00696},{"hour":14,"year":2019,"ratio":0.00737},{"hour":15,"year":2019,"ratio":0.00806},{"hour":16,"year":2019,"ratio":0.00998},{"hour":17,"year":2019,"ratio":0.01270},{"hour":18,"year":2019,"ratio":0.01707},{"hour":19,"year":2019,"ratio":0.01969},{"hour":20,"year":2019,"ratio":0.01831},{"hour":21,"year":2019,"ratio":0.01620},{"hour":22,"year":2019,"ratio":0.01302},{"hour":23,"year":2019,"ratio":0.01109},
{"hour":0,"year":2020,"ratio":0.00884},{"hour":1,"year":2020,"ratio":0.00538},{"hour":2,"year":2020,"ratio":0.00372},{"hour":3,"year":2020,"ratio":0.00253},{"hour":4,"year":2020,"ratio":0.00216},{"hour":5,"year":2020,"ratio":0.00232},{"hour":6,"year":2020,"ratio":0.00220},{"hour":7,"year":2020,"ratio":0.00225},{"hour":8,"year":2020,"ratio":0.00332},{"hour":9,"year":2020,"ratio":0.00348},{"hour":10,"year":2020,"ratio":0.00465},{"hour":11,"year":2020,"ratio":0.00465},{"hour":12,"year":2020,"ratio":0.00632},{"hour":13,"year":2020,"ratio":0.00700},{"hour":14,"year":2020,"ratio":0.00741},{"hour":15,"year":2020,"ratio":0.00810},{"hour":16,"year":2020,"ratio":0.01000},{"hour":17,"year":2020,"ratio":0.01272},{"hour":18,"year":2020,"ratio":0.01709},{"hour":19,"year":2020,"ratio":0.01985},{"hour":20,"year":2020,"ratio":0.01847},{"hour":21,"year":2020,"ratio":0.01624},{"hour":22,"year":2020,"ratio":0.01306},{"hour":23,"year":2020,"ratio":0.01119},
{"hour":0,"year":2021,"ratio":0.00885},{"hour":1,"year":2021,"ratio":0.00538},{"hour":2,"year":2021,"ratio":0.00372},{"hour":3,"year":2021,"ratio":0.00254},{"hour":4,"year":2021,"ratio":0.00217},{"hour":5,"year":2021,"ratio":0.00233},{"hour":6,"year":2021,"ratio":0.00220},{"hour":7,"year":2021,"ratio":0.00226},{"hour":8,"year":2021,"ratio":0.00334},{"hour":9,"year":2021,"ratio":0.00350},{"hour":10,"year":2021,"ratio":0.00468},{"hour":11,"year":2021,"ratio":0.00468},{"hour":12,"year":2021,"ratio":0.00636},{"hour":13,"year":2021,"ratio":0.00704},{"hour":14,"year":2021,"ratio":0.00745},{"hour":15,"year":2021,"ratio":0.00814},{"hour":16,"year":2021,"ratio":0.01002},{"hour":17,"year":2021,"ratio":0.01274},{"hour":18,"year":2021,"ratio":0.01711},{"hour":19,"year":2021,"ratio":0.02001},{"hour":20,"year":2021,"ratio":0.01863},{"hour":21,"year":2021,"ratio":0.01628},{"hour":22,"year":2021,"ratio":0.01310},{"hour":23,"year":2021,"ratio":0.01129},
{"hour":0,"year":2022,"ratio":0.00886},{"hour":1,"year":2022,"ratio":0.00538},{"hour":2,"year":2022,"ratio":0.00372},{"hour":3,"year":2022,"ratio":0.00254},{"hour":4,"year":2022,"ratio":0.00218},{"hour":5,"year":2022,"ratio":0.00233},{"hour":6,"year":2022,"ratio":0.00221},{"hour":7,"year":2022,"ratio":0.00227},{"hour":8,"year":2022,"ratio":0.00336},{"hour":9,"year":2022,"ratio":0.00352},{"hour":10,"year":2022,"ratio":0.00471},{"hour":11,"year":2022,"ratio":0.00471},{"hour":12,"year":2022,"ratio":0.00640},{"hour":13,"year":2022,"ratio":0.00708},{"hour":14,"year":2022,"ratio":0.00749},{"hour":15,"year":2022,"ratio":0.00818},{"hour":16,"year":2022,"ratio":0.01004},{"hour":17,"year":2022,"ratio":0.01276},{"hour":18,"year":2022,"ratio":0.01713},{"hour":19,"year":2022,"ratio":0.02017},{"hour":20,"year":2022,"ratio":0.01879},{"hour":21,"year":2022,"ratio":0.01632},{"hour":22,"year":2022,"ratio":0.01314},{"hour":23,"year":2022,"ratio":0.01139},
{"hour":0,"year":2023,"ratio":0.00887},{"hour":1,"year":2023,"ratio":0.00538},{"hour":2,"year":2023,"ratio":0.00372},{"hour":3,"year":2023,"ratio":0.00255},{"hour":4,"year":2023,"ratio":0.00219},{"hour":5,"year":2023,"ratio":0.00234},{"hour":6,"year":2023,"ratio":0.00222},{"hour":7,"year":2023,"ratio":0.00228},{"hour":8,"year":2023,"ratio":0.00338},{"hour":9,"year":2023,"ratio":0.00354},{"hour":10,"year":2023,"ratio":0.00474},{"hour":11,"year":2023,"ratio":0.00474},{"hour":12,"year":2023,"ratio":0.00644},{"hour":13,"year":2023,"ratio":0.00712},{"hour":14,"year":2023,"ratio":0.00753},{"hour":15,"year":2023,"ratio":0.00822},{"hour":16,"year":2023,"ratio":0.01006},{"hour":17,"year":2023,"ratio":0.01278},{"hour":18,"year":2023,"ratio":0.01715},{"hour":19,"year":2023,"ratio":0.02033},{"hour":20,"year":2023,"ratio":0.01895},{"hour":21,"year":2023,"ratio":0.01636},{"hour":22,"year":2023,"ratio":0.01318},{"hour":23,"year":2023,"ratio":0.01149},
{"hour":0,"year":2024,"ratio":0.00888},{"hour":1,"year":2024,"ratio":0.00538},{"hour":2,"year":2024,"ratio":0.00372},{"hour":3,"year":2024,"ratio":0.00255},{"hour":4,"year":2024,"ratio":0.00220},{"hour":5,"year":2024,"ratio":0.00234},{"hour":6,"year":2024,"ratio":0.00222},{"hour":7,"year":2024,"ratio":0.00228},{"hour":8,"year":2024,"ratio":0.00340},{"hour":9,"year":2024,"ratio":0.00356},{"hour":10,"year":2024,"ratio":0.00477},{"hour":11,"year":2024,"ratio":0.00477},{"hour":12,"year":2024,"ratio":0.00648},{"hour":13,"year":2024,"ratio":0.00716},{"hour":14,"year":2024,"ratio":0.00757},{"hour":15,"year":2024,"ratio":0.00826},{"hour":16,"year":2024,"ratio":0.01008},{"hour":17,"year":2024,"ratio":0.01280},{"hour":18,"year":2024,"ratio":0.01717},{"hour":19,"year":2024,"ratio":0.02049},{"hour":20,"year":2024,"ratio":0.01911},{"hour":21,"year":2024,"ratio":0.01640},{"hour":22,"year":2024,"ratio":0.01322},{"hour":23,"year":2024,"ratio":0.01159}
],
"Sunday":[
{"hour":0,"year":2019,"ratio":0.01007},{"hour":1,"year":2019,"ratio":0.00719},{"hour":2,"year":2019,"ratio":0.00435},{"hour":3,"year":2019,"ratio":0.00291},{"hour":4,"year":2019,"ratio":0.00208},{"hour":5,"year":2019,"ratio":0.00203},{"hour":6,"year":2019,"ratio":0.00195},{"hour":7,"year":2019,"ratio":0.00213},{"hour":8,"year":2019,"ratio":0.00309},{"hour":9,"year":2019,"ratio":0.00414},{"hour":10,"year":2019,"ratio":0.00469},{"hour":11,"year":2019,"ratio":0.00540},{"hour":12,"year":2019,"ratio":0.00624},{"hour":13,"year":2019,"ratio":0.00782},{"hour":14,"year":2019,"ratio":0.00810},{"hour":15,"year":2019,"ratio":0.00783},{"hour":16,"year":2019,"ratio":0.00781},{"hour":17,"year":2019,"ratio":0.00875},{"hour":18,"year":2019,"ratio":0.00890},{"hour":19,"year":2019,"ratio":0.00849},{"hour":20,"year":2019,"ratio":0.00701},{"hour":21,"year":2019,"ratio":0.00589},{"hour":22,"year":2019,"ratio":0.00488},{"hour":23,"year":2019,"ratio":0.00412},
{"hour":0,"year":2020,"ratio":0.01021},{"hour":1,"year":2020,"ratio":0.00725},{"hour":2,"year":2020,"ratio":0.00437},{"hour":3,"year":2020,"ratio":0.00293},{"hour":4,"year":2020,"ratio":0.00211},{"hour":5,"year":2020,"ratio":0.00206},{"hour":6,"year":2020,"ratio":0.00198},{"hour":7,"year":2020,"ratio":0.00215},{"hour":8,"year":2020,"ratio":0.00311},{"hour":9,"year":2020,"ratio":0.00417},{"hour":10,"year":2020,"ratio":0.00473},{"hour":11,"year":2020,"ratio":0.00546},{"hour":12,"year":2020,"ratio":0.00632},{"hour":13,"year":2020,"ratio":0.00794},{"hour":14,"year":2020,"ratio":0.00822},{"hour":15,"year":2020,"ratio":0.00796},{"hour":16,"year":2020,"ratio":0.00794},{"hour":17,"year":2020,"ratio":0.00887},{"hour":18,"year":2020,"ratio":0.00902},{"hour":19,"year":2020,"ratio":0.00859},{"hour":20,"year":2020,"ratio":0.00709},{"hour":21,"year":2020,"ratio":0.00595},{"hour":22,"year":2020,"ratio":0.00494},{"hour":23,"year":2020,"ratio":0.00418},
{"hour":0,"year":2021,"ratio":0.01035},{"hour":1,"year":2021,"ratio":0.00731},{"hour":2,"year":2021,"ratio":0.00439},{"hour":3,"year":2021,"ratio":0.00294},{"hour":4,"year":2021,"ratio":0.00214},{"hour":5,"year":2021,"ratio":0.00209},{"hour":6,"year":2021,"ratio":0.00201},{"hour":7,"year":2021,"ratio":0.00217},{"hour":8,"year":2021,"ratio":0.00313},{"hour":9,"year":2021,"ratio":0.00420},{"hour":10,"year":2021,"ratio":0.00477},{"hour":11,"year":2021,"ratio":0.00552},{"hour":12,"year":2021,"ratio":0.00640},{"hour":13,"year":2021,"ratio":0.00806},{"hour":14,"year":2021,"ratio":0.00834},{"hour":15,"year":2021,"ratio":0.00809},{"hour":16,"year":2021,"ratio":0.00807},{"hour":17,"year":2021,"ratio":0.00899},{"hour":18,"year":2021,"ratio":0.00914},{"hour":19,"year":2021,"ratio":0.00869},{"hour":20,"year":2021,"ratio":0.00717},{"hour":21,"year":2021,"ratio":0.00601},{"hour":22,"year":2021,"ratio":0.00500},{"hour":23,"year":2021,"ratio":0.00424},
{"hour":0,"year":2022,"ratio":0.01049},{"hour":1,"year":2022,"ratio":0.00737},{"hour":2,"year":2022,"ratio":0.00441},{"hour":3,"year":2022,"ratio":0.00296},{"hour":4,"year":2022,"ratio":0.00217},{"hour":5,"year":2022,"ratio":0.00212},{"hour":6,"year":2022,"ratio":0.00204},{"hour":7,"year":2022,"ratio":0.00219},{"hour":8,"year":2022,"ratio":0.00315},{"hour":9,"year":2022,"ratio":0.00423},{"hour":10,"year":2022,"ratio":0.00481},{"hour":11,"year":2022,"ratio":0.00558},{"hour":12,"year":2022,"ratio":0.00648},{"hour":13,"year":2022,"ratio":0.00818},{"hour":14,"year":2022,"ratio":0.00846},{"hour":15,"year":2022,"ratio":0.00822},{"hour":16,"year":2022,"ratio":0.00820},{"hour":17,"year":2022,"ratio":0.00911},{"hour":18,"year":2022,"ratio":0.00926},{"hour":19,"year":2022,"ratio":0.00879},{"hour":20,"year":2022,"ratio":0.00725},{"hour":21,"year":2022,"ratio":0.00607},{"hour":22,"year":2022,"ratio":0.00506},{"hour":23,"year":2022,"ratio":0.00430},
{"hour":0,"year":2023,"ratio":0.01063},{"hour":1,"year":2023,"ratio":0.00743},{"hour":2,"year":2023,"ratio":0.00443},{"hour":3,"year":2023,"ratio":0.00297},{"hour":4,"year":2023,"ratio":0.00220},{"hour":5,"year":2023,"ratio":0.00215},{"hour":6,"year":2023,"ratio":0.00207},{"hour":7,"year":2023,"ratio":0.00221},{"hour":8,"year":2023,"ratio":0.00317},{"hour":9,"year":2023,"ratio":0.00426},{"hour":10,"year":2023,"ratio":0.00485},{"hour":11,"year":2023,"ratio":0.00564},{"hour":12,"year":2023,"ratio":0.00656},{"hour":13,"year":2023,"ratio":0.00830},{"hour":14,"year":2023,"ratio":0.00858},{"hour":15,"year":2023,"ratio":0.00835},{"hour":16,"year":2023,"ratio":0.00833},{"hour":17,"year":2023,"ratio":0.00923},{"hour":18,"year":2023,"ratio":0.00938},{"hour":19,"year":2023,"ratio":0.00889},{"hour":20,"year":2023,"ratio":0.00733},{"hour":21,"year":2023,"ratio":0.00613},{"hour":22,"year":2023,"ratio":0.00512},{"hour":23,"year":2023,"ratio":0.00436},
{"hour":0,"year":2024,"ratio":0.01077},{"hour":1,"year":2024,"ratio":0.00749},{"hour":2,"year":2024,"ratio":0.00445},{"hour":3,"year":2024,"ratio":0.00299},{"hour":4,"year":2024,"ratio":0.00223},{"hour":5,"year":2024,"ratio":0.00218},{"hour":6,"year":2024,"ratio":0.00210},{"hour":7,"year":2024,"ratio":0.00223},{"hour":8,"year":2024,"ratio":0.00319},{"hour":9,"year":2024,"ratio":0.00429},{"hour":10,"year":2024,"ratio":0.00489},{"hour":11,"year":2024,"ratio":0.00570},{"hour":12,"year":2024,"ratio":0.00664},{"hour":13,"year":2024,"ratio":0.00842},{"hour":14,"year":2024,"ratio":0.00870},{"hour":15,"year":2024,"ratio":0.00848},{"hour":16,"year":2024,"ratio":0.00846},{"hour":17,"year":2024,"ratio":0.00935},{"hour":18,"year":2024,"ratio":0.00950},{"hour":19,"year":2024,"ratio":0.00899},{"hour":20,"year":2024,"ratio":0.00741},{"hour":21,"year":2024,"ratio":0.00619},{"hour":22,"year":2024,"ratio":0.00518},{"hour":23,"year":2024,"ratio":0.00442}
]
},
"hconcat":[
{"title":"Monday","width":341,"height":862,"data":{"name":"Monday"},"mark":{"type":"line","strokeCap":"round","strokeJoin":"round"},
 "encoding":{
  "x":{"field":"hour","type":"quantitative","scale":{"domain":[-1.15,24.15],"nice":false,"zero":false},"axis":{"values":[0,4,8,12,16,20],"format":"02d","title":"Hour","labelPadding":5,"titlePadding":4}},
  "y":{"field":"ratio","type":"quantitative","scale":{"domain":[0.00064,0.02158],"nice":false,"zero":false},"axis":{"values":[0.0025,0.005,0.0075,0.01,0.0125,0.015,0.0175,0.02],"format":".4f","title":"Ratio","titlePadding":4}},
  "color":{"field":"year","type":"ordinal","scale":{"domain":[2019,2020,2021,2022,2023,2024],"range":["#f6b48f","#f37651","#e13342","#ad1759","#701f57","#35193e"]},"legend":{"title":"Year"}},
  "strokeWidth":{"field":"year","type":"ordinal","scale":{"type":"ordinal","domain":[2019,2020,2021,2022,2023,2024],"range":[2,2.7,3.4,4.3,5.3,6.7]},"legend":{"title":"Year"}}}},
{"title":"Tuesday","width":341,"height":862,"data":{"name":"Tuesday"},"mark":{"type":"line","strokeCap":"round","strokeJoin":"round"},
 "encoding":{
  "x":{"field":"hour","type":"quantitative","scale":{"domain":[-1.15,24.15],"nice":false,"zero":false},"axis":{"values":[0,4,8,12,16,20],"format":"02d","title":"Hour","labelPadding":5,"titlePadding":4}},
  "y":{"field":"ratio","type":"quantitative","scale":{"domain":[0.00064,0.02158],"nice":false,"zero":false},"axis":{"values":[0.0025,0.005,0.0075,0.01,0.0125,0.015,0.0175,0.02],"labels":false,"title":null}},
  "color":{"field":"year","type":"ordinal","scale":{"domain":[2019,2020,2021,2022,2023,2024],"range":["#f6b48f","#f37651","#e13342","#ad1759","#701f57","#35193e"]},"legend":{"title":"Year"}},
  "strokeWidth":{"field":"year","type":"ordinal","scale":{"type":"ordinal","domain":[2019,2020,2021,2022,2023,2024],"range":[2,2.7,3.4,4.3,5.3,6.7]},"legend":{"title":"Year"}}}},
{"title":"Wednesday","width":341,"height":862,"data":{"name":"Wednesday"},"mark":{"type":"line","strokeCap":"round","strokeJoin":"round"},
 "encoding":{
  "x":{"field":"hour","type":"quantitative","scale":{"domain":[-1.15,24.15],"nice":false,"zero":false},"axis":{"values":[0,4,8,12,16,20],"format":"02d","title":"Hour","labelPadding":5,"titlePadding":4}},
  "y":{"field":"ratio","type":"quantitative","scale":{"domain":[0.00064,0.02158],"nice":false,"zero":false},"axis":{"values":[0.0025,0.005,0.0075,0.01,0.0125,0.015,0.0175,0.02],"labels":false,"title":null}},
  "color":{"field":"year","type":"ordinal","scale":{"domain":[2019,2020,2021,2022,2023,2024],"range":["#f6b48f","#f37651","#e13342","#ad1759","#701f57","#35193e"]},"legend":{"title":"Year"}},
  "strokeWidth":{"field":"year","type":"ordinal","scale":{"type":"ordinal","domain":[2019,2020,2021,2022,2023,2024],"range":[2,2.7,3.4,4.3,5.3,6.7]},"legend":{"title":"Year"}}}},
{"title":"Thursday","width":341,"height":862,"data":{"name":"Thursday"},"mark":{"type":"line","strokeCap":"round","strokeJoin":"round"},
 "encoding":{
  "x":{"field":"hour","type":"quantitative","scale":{"domain":[-1.15,24.15],"nice":false,"zero":false},"axis":{"values":[0,4,8,12,16,20],"format":"02d","title":"Hour","labelPadding":5,"titlePadding":4}},
  "y":{"field":"ratio","type":"quantitative","scale":{"domain":[0.00064,0.02158],"nice":false,"zero":false},"axis":{"values":[0.0025,0.005,0.0075,0.01,0.0125,0.015,0.0175,0.02],"labels":false,"title":null}},
  "color":{"field":"year","type":"ordinal","scale":{"domain":[2019,2020,2021,2022,2023,2024],"range":["#f6b48f","#f37651","#e13342","#ad1759","#701f57","#35193e"]},"legend":{"title":"Year"}},
  "strokeWidth":{"field":"year","type":"ordinal","scale":{"type":"ordinal","domain":[2019,2020,2021,2022,2023,2024],"range":[2,2.7,3.4,4.3,5.3,6.7]},"legend":{"title":"Year"}}}},
{"title":"Friday","width":341,"height":862,"data":{"name":"Friday"},"mark":{"type":"line","strokeCap":"round","strokeJoin":"round"},
 "encoding":{
  "x":{"field":"hour","type":"quantitative","scale":{"domain":[-1.15,24.15],"nice":false,"zero":false},"axis":{"values":[0,4,8,12,16,20],"format":"02d","title":"Hour","labelPadding":5,"titlePadding":4}},
  "y":{"field":"ratio","type":"quantitative","scale":{"domain":[0.00064,0.02158],"nice":false,"zero":false},"axis":{"values":[0.0025,0.005,0.0075,0.01,0.0125,0.015,0.0175,0.02],"labels":false,"title":null}},
  "color":{"field":"year","type":"ordinal","scale":{"domain":[2019,2020,2021,2022,2023,2024],"range":["#f6b48f","#f37651","#e13342","#ad1759","#701f57","#35193e"]},"legend":{"title":"Year"}},
  "strokeWidth":{"field":"year","type":"ordinal","scale":{"type":"ordinal","domain":[2019,2020,2021,2022,2023,2024],"range":[2,2.7,3.4,4.3,5.3,6.7]},"legend":{"title":"Year"}}}},
{"title":"Saturday","width":341,"height":862,"data":{"name":"Saturday"},"mark":{"type":"line","strokeCap":"round","strokeJoin":"round"},
 "encoding":{
  "x":{"field":"hour","type":"quantitative","scale":{"domain":[-1.15,24.15],"nice":false,"zero":false},"axis":{"values":[0,4,8,12,16,20],"format":"02d","title":"Hour","labelPadding":5,"titlePadding":4}},
  "y":{"field":"ratio","type":"quantitative","scale":{"domain":[0.00064,0.02158],"nice":false,"zero":false},"axis":{"values":[0.0025,0.005,0.0075,0.01,0.0125,0.015,0.0175,0.02],"labels":false,"title":null}},
  "color":{"field":"year","type":"ordinal","scale":{"domain":[2019,2020,2021,2022,2023,2024],"range":["#f6b48f","#f37651","#e13342","#ad1759","#701f57","#35193e"]},"legend":{"title":"Year"}},
  "strokeWidth":{"field":"year","type":"ordinal","scale":{"type":"ordinal","domain":[2019,2020,2021,2022,2023,2024],"range":[2,2.7,3.4,4.3,5.3,6.7]},"legend":{"title":"Year"}}}},
{"title":"Sunday","width":341,"height":862,"data":{"name":"Sunday"},"mark":{"type":"line","strokeCap":"round","strokeJoin":"round"},
 "encoding":{
  "x":{"field":"hour","type":"quantitative","scale":{"domain":[-1.15,24.15],"nice":false,"zero":false},"axis":{"values":[0,4,8,12,16,20],"format":"02d","title":"Hour","labelPadding":5,"titlePadding":4}},
  "y":{"field":"ratio","type":"quantitative","scale":{"domain":[0.00064,0.02158],"nice":false,"zero":false},"axis":{"values":[0.0025,0.005,0.0075,0.01,0.0125,0.015,0.0175,0.02],"labels":false,"title":null}},
  "color":{"field":"year","type":"ordinal","scale":{"domain":[2019,2020,2021,2022,2023,2024],"range":["#f6b48f","#f37651","#e13342","#ad1759","#701f57","#35193e"]},"legend":{"title":"Year"}},
  "strokeWidth":{"field":"year","type":"ordinal","scale":{"type":"ordinal","domain":[2019,2020,2021,2022,2023,2024],"range":[2,2.7,3.4,4.3,5.3,6.7]},"legend":{"title":"Year"}}}}
]
}
